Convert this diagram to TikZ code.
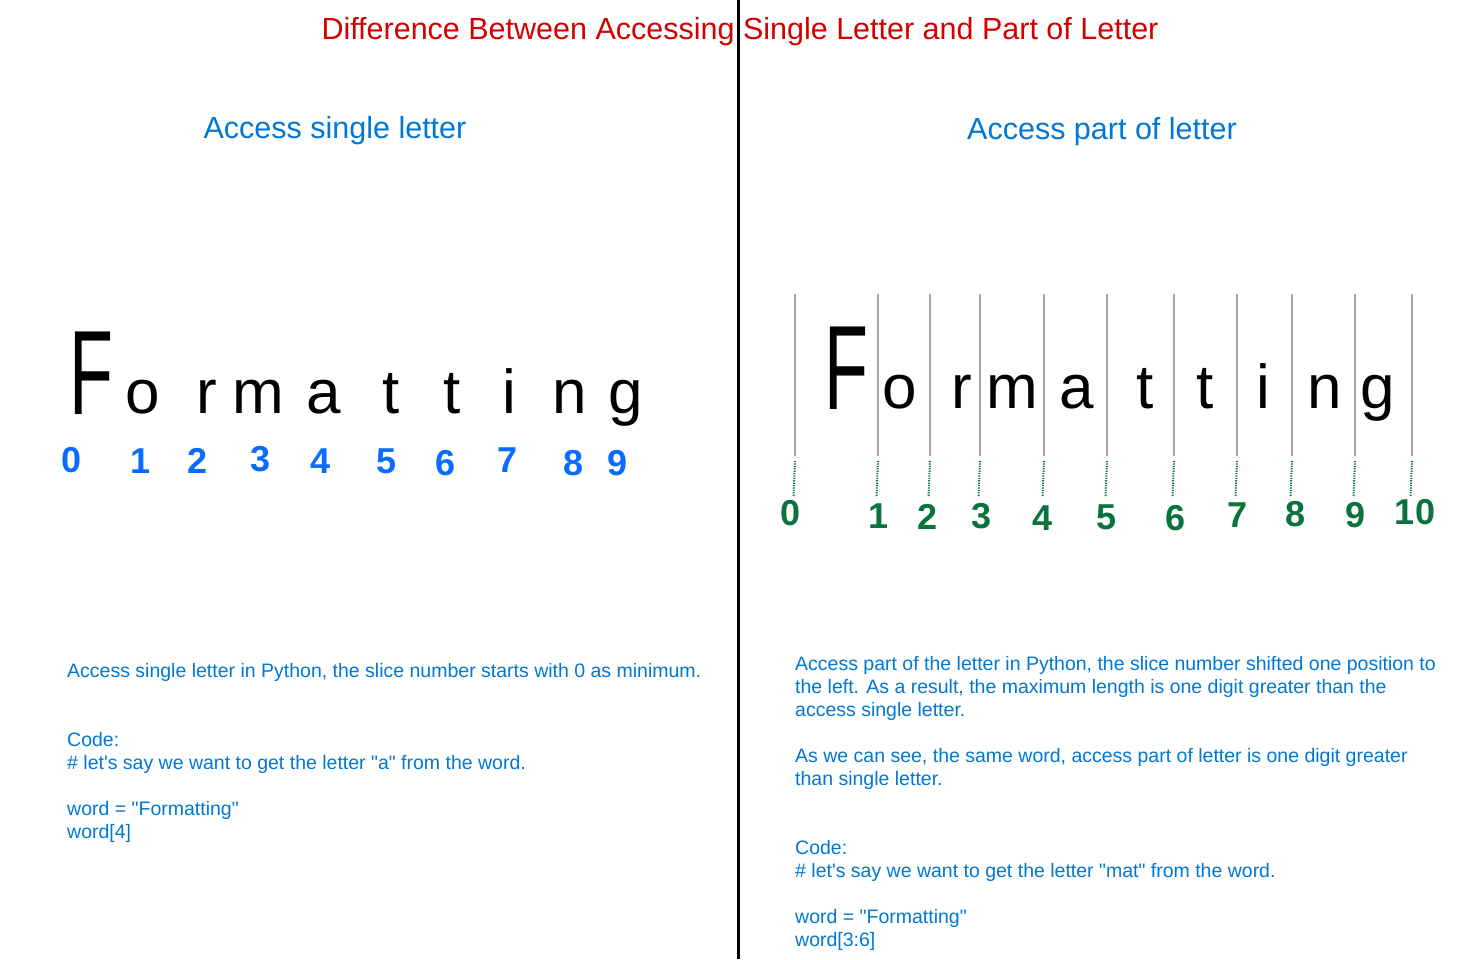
\documentclass[tikz,border=0pt]{standalone}
\usepackage{fontspec}
\setmainfont{Liberation Sans}[Ligatures=TeXOff]
\usepackage{graphicx}
\definecolor{titlered}{RGB}{210,0,0}
\definecolor{textblue}{RGB}{0,120,212}
\definecolor{digblue}{RGB}{10,108,255}
\definecolor{diggreen}{RGB}{8,115,60}
\definecolor{gridgrey}{RGB}{165,165,165}
\tikzset{
  heading/.style={inner sep=0pt, font=\fontsize{30.5}{34}\selectfont},
  body/.style={inner sep=0pt, anchor=north west, align=left, text=textblue, font=\fontsize{19.5}{23}\selectfont},
  bigl/.style={inner sep=0pt, anchor=base, font=\fontsize{62}{62}\selectfont},
  bdig/.style={inner sep=0pt, text=digblue, font=\fontsize{36}{36}\selectfont\bfseries},
  gdig/.style={inner sep=0pt, text=diggreen, font=\fontsize{36}{36}\selectfont\bfseries},
  gridline/.style={draw=gridgrey, line width=1.8pt},
  dotline/.style={draw=diggreen, line width=2pt, dash pattern=on 1.2pt off 1.2pt},
}
\begin{document}
\begin{tikzpicture}[x=1pt,y=-1pt]
\useasboundingbox[fill=white] (0,0) rectangle (1467,959);

% title
\node[heading, text=titlered] (title) at (740,32) {Difference Between Accessing Single Letter and Part of Letter};
% divider
\coordinate (divtop) at (738,0);
\coordinate (divbot) at (738,959);
\draw[line width=3pt] (divtop) -- (divbot);

% sub headings
\node[heading, text=textblue] (subL) at (335,131) {Access single letter};
\node[heading, text=textblue] (subR) at (1102,132) {Access part of letter};

% left handwritten word
\node[bigl] (LF) at (91,414) {\scalebox{0.75}[1.25]{\fontsize{96}{96}\selectfont F}};
\foreach \ch/\x [count=\k] in {o/143, r/207, m/258, a/324, t/391, t/452, i/509, n/570, g/626}
  \node[bigl] (LL\k) at (\x,413) {\ch};

% left digits
\foreach \d/\x/\y in {0/72/460, 1/141/461, 2/198/461, 3/261/459, 4/321/461, 5/387/461, 6/446/463, 7/508/460, 8/574/463, 9/618/463}
  \node[bdig] (LD\d) at (\x,\y) {\d};

% right handwritten word
\node[bigl] (RF) at (846,409) {\scalebox{0.75}[1.25]{\fontsize{96}{96}\selectfont F}};
\foreach \ch/\x [count=\k] in {o/900, r/962, m/1012, a/1077, t/1145, t/1205, i/1263, n/1325, g/1378}
  \node[bigl] (RL\k) at (\x,408) {\ch};

% right grid lines and dotted leaders
\foreach \x [count=\k from 0] in {795,878,930,980,1044,1107,1174,1237,1292,1355,1412} {
  \coordinate (gt\k) at (\x,294);
  \coordinate (gb\k) at (\x,456);
  \coordinate (dt\k) at (\x,461);
  \coordinate (db\k) at (\x-1.5,497);
  \draw[gridline] (gt\k) -- (gb\k);
  \draw[dotline] (dt\k) -- (db\k);
}

% right digits
\foreach \d/\x/\y in {0/791/513, 1/878/516, 2/927/517, 3/981/516, 4/1042/518, 5/1106/517, 6/1175/518, 7/1237/515, 8/1295/514, 9/1355/515, 10/1415/512}
  \node[gdig] (RD\d) at (\x,\y) {\d};

% left body text
\node[body] (bodyL) at (67,663) {Access single letter in Python, the slice number starts with 0 as minimum.\\[46pt]
Code:\\
\# let's say we want to get the letter "a" from the word.\\[23pt]
word = "Formatting"\\
word[4]};

% right body text
\node[body] (bodyR) at (795,656) {Access part of the letter in Python, the slice number shifted one position to\\
the left. As a result, the maximum length is one digit greater than the\\
access single letter.\\[23pt]
As we can see, the same word, access part of letter is one digit greater\\
than single letter.\\[46pt]
Code:\\
\# let's say we want to get the letter "mat" from the word.\\[23pt]
word = "Formatting"\\
word[3:6]};
\end{tikzpicture}
\end{document}
